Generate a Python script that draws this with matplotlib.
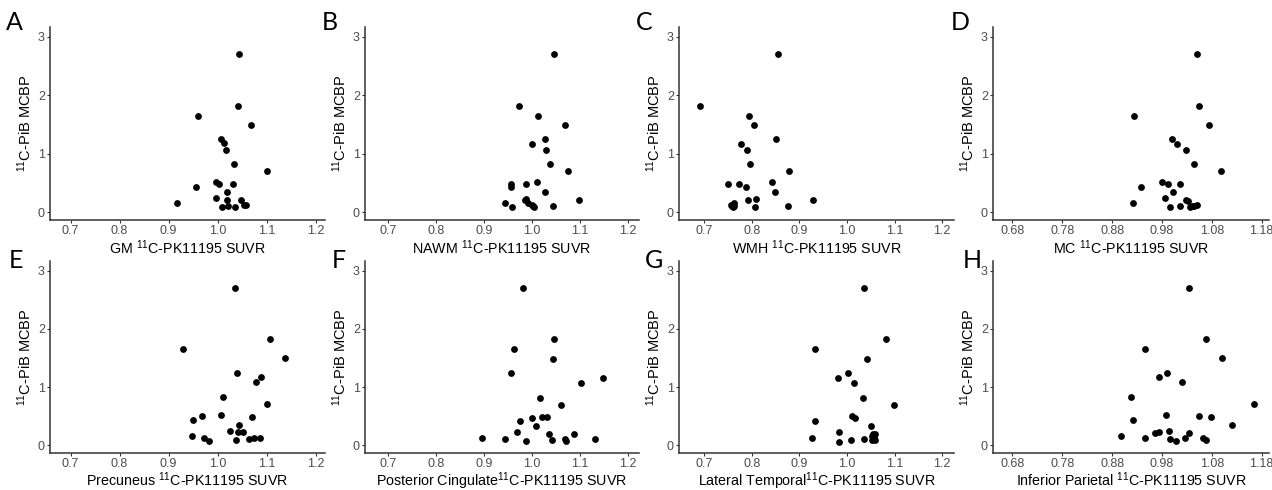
import matplotlib
matplotlib.use("Agg")
import matplotlib.pyplot as plt

plt.rcParams['font.family'] = ['Liberation Sans', 'DejaVu Sans']
plt.rcParams['mathtext.default'] = 'regular'

# ---------------- data ----------------
gm_x = [1.044, 1.041, 0.959, 1.069, 1.007, 1.013, 1.018, 1.033, 1.100, 0.997, 1.003, 1.031,
        0.955, 1.020, 0.918, 0.997, 1.020, 1.048, 1.053, 1.008, 1.022, 1.036, 1.057]
gm_y = [2.70, 1.82, 1.65, 1.49, 1.25, 1.18, 1.06, 0.82, 0.70, 0.51, 0.49, 0.48,
        0.43, 0.35, 0.15, 0.24, 0.20, 0.20, 0.13, 0.08, 0.11, 0.09, 0.12]

nawm_x = [1.045, 0.972, 1.013, 1.068, 1.028, 1.001, 1.030, 1.038, 1.074, 0.956, 0.957, 0.988,
          1.011, 1.028, 0.944, 0.988, 0.986, 1.097, 0.992, 0.999, 1.044, 0.958, 1.002, 1.005]
nawm_y = [2.70, 1.82, 1.65, 1.49, 1.25, 1.17, 1.06, 0.82, 0.70, 0.48, 0.43, 0.49,
          0.51, 0.35, 0.15, 0.23, 0.20, 0.20, 0.15, 0.12, 0.11, 0.08, 0.10, 0.08]

wmh_x = [0.855, 0.691, 0.795, 0.805, 0.851, 0.777, 0.790, 0.796, 0.878, 0.749, 0.774, 0.843,
         0.788, 0.849, 0.809, 0.793, 0.929, 0.877, 0.806, 0.756, 0.762, 0.760, 0.758, 0.763]
wmh_y = [2.70, 1.82, 1.65, 1.49, 1.25, 1.17, 1.06, 0.82, 0.70, 0.48, 0.49, 0.51,
         0.43, 0.35, 0.23, 0.20, 0.20, 0.11, 0.08, 0.13, 0.15, 0.08, 0.11, 0.10]

mc_x = [1.050, 1.055, 0.924, 1.074, 1.001, 1.010, 1.028, 1.045, 1.098, 0.981, 0.993, 1.016,
        0.939, 1.002, 0.922, 0.986, 1.029, 1.033, 1.050, 0.997, 1.016, 1.037, 1.041, 1.044]
mc_y = [2.70, 1.82, 1.65, 1.49, 1.25, 1.17, 1.06, 0.82, 0.70, 0.51, 0.49, 0.48,
        0.43, 0.35, 0.15, 0.24, 0.21, 0.19, 0.13, 0.08, 0.11, 0.09, 0.10, 0.11]

prec_x = [1.036, 1.107, 0.929, 1.137, 1.040, 1.088, 1.078, 1.011, 1.101, 0.950, 0.969, 1.007,
          1.070, 1.044, 0.947, 1.025, 1.041, 1.052, 0.973, 0.982, 1.038, 1.063, 1.074, 1.086]
prec_y = [2.70, 1.83, 1.66, 1.50, 1.25, 1.18, 1.08, 0.83, 0.71, 0.43, 0.50, 0.52,
          0.48, 0.35, 0.16, 0.24, 0.22, 0.22, 0.12, 0.08, 0.09, 0.10, 0.13, 0.13]

pcc_x = [0.981, 1.046, 0.963, 1.043, 0.956, 1.147, 1.103, 1.017, 1.060, 0.976, 1.000, 1.021,
         1.032, 1.009, 0.895, 0.969, 1.035, 1.087, 0.944, 0.987, 1.041, 1.069, 1.070, 1.131]
pcc_y = [2.71, 1.82, 1.65, 1.49, 1.25, 1.16, 1.07, 0.81, 0.69, 0.41, 0.47, 0.49,
         0.48, 0.33, 0.13, 0.22, 0.19, 0.19, 0.10, 0.07, 0.09, 0.10, 0.08, 0.10]

lt_x = [1.035, 1.083, 0.933, 1.042, 1.002, 0.982, 1.014, 1.034, 1.098, 0.933, 1.010, 1.017,
        1.051, 0.926, 0.984, 1.054, 1.059, 0.984, 1.009, 1.036, 1.052, 1.057, 1.060, 1.053]
lt_y = [2.71, 1.82, 1.65, 1.49, 1.25, 1.16, 1.07, 0.81, 0.69, 0.41, 0.50, 0.47,
        0.33, 0.13, 0.22, 0.20, 0.19, 0.06, 0.09, 0.10, 0.09, 0.12, 0.09, 0.15]

ip_x = [1.034, 1.068, 0.947, 1.101, 0.991, 0.974, 1.021, 0.917, 1.165, 0.922, 0.989, 1.054,
        1.078, 1.120, 0.897, 0.966, 0.974, 0.994, 1.035, 0.947, 0.996, 1.009, 1.026, 1.062, 1.068]
ip_y = [2.70, 1.83, 1.66, 1.50, 1.25, 1.18, 1.08, 0.83, 0.71, 0.43, 0.52, 0.51,
        0.48, 0.35, 0.16, 0.21, 0.23, 0.24, 0.21, 0.12, 0.10, 0.08, 0.12, 0.13, 0.09]

letters = ["A", "B", "C", "D", "E", "F", "G", "H"]
xlabels = ["GM $^{11}$C-PK11195 SUVR", "NAWM $^{11}$C-PK11195 SUVR",
           "WMH $^{11}$C-PK11195 SUVR", "MC $^{11}$C-PK11195 SUVR",
           "Precuneus $^{11}$C-PK11195 SUVR", "Posterior Cingulate$^{11}$C-PK11195 SUVR",
           "Lateral Temporal$^{11}$C-PK11195 SUVR", "Inferior Parietal $^{11}$C-PK11195 SUVR"]
ylabel = "$^{11}$C-PiB MCBP"
ticks_a = [0.7, 0.8, 0.9, 1.0, 1.1, 1.2]
ticks_b = [0.68, 0.78, 0.88, 0.98, 1.08, 1.18]
yticks = [0, 1, 2, 3]

series = [(gm_x, gm_y), (nawm_x, nawm_y), (wmh_x, wmh_y), (mc_x, mc_y),
          (prec_x, prec_y), (pcc_x, pcc_y), (lt_x, lt_y), (ip_x, ip_y)]

# ---------------- layout ----------------
W, H = 1272, 490
fig = plt.figure(figsize=(W / 100, H / 100), dpi=100)

# pixel extents of each panel: (left, right, top, bottom)
lefts = [50, 365, 679, 993]
rights = [325, 639, 954, 1269]
row_tb = [(27, 220), (261, 453)]
xlims = [(0.658, 1.219), (0.652, 1.223), (0.647, 1.225), (0.641, 1.195)]
letter_pos = [(14, 23), (330, 23), (644, 23), (960, 23),
              (16, 260), (339, 260), (654, 260), (972, 260)]

for i, (xs, ys) in enumerate(series):
    r, c = divmod(i, 4)
    top, bot = row_tb[r]
    l, rr = lefts[c], rights[c]
    ax = fig.add_axes([l / W, (H - bot) / H, (rr - l) / W, (bot - top) / H])
    ax.scatter(xs, ys, s=24, color="black", linewidths=0, zorder=3)
    ax.set_xlim(*xlims[c])
    ax.set_ylim(-0.135, 3.17)
    tk = ticks_b if c == 3 else ticks_a
    ax.set_xticks(tk)
    ax.set_xticklabels([f"{t:.2f}" if c == 3 else f"{t:.1f}" for t in tk])
    ax.set_yticks(yticks)
    for sp in ["top", "right"]:
        ax.spines[sp].set_visible(False)
    for sp in ["left", "bottom"]:
        ax.spines[sp].set_color("#333333")
        ax.spines[sp].set_linewidth(1.1)
    ax.tick_params(axis="both", length=2.5, width=0.8, color="#333333",
                   labelsize=9, labelcolor="#4D4D4D", pad=1.2)
    ax.set_xlabel(xlabels[i], fontsize=10.3, labelpad=(1 if r == 0 else 0))
    ax.set_ylabel(ylabel, fontsize=10.5, labelpad=3)
    lx, ly = letter_pos[i]
    fig.text(lx / W, 1 - ly / H, letters[i], fontsize=18, family=["Lato", "DejaVu Sans"],
             ha="center", va="center")

fig.savefig("out.png", dpi=100)
